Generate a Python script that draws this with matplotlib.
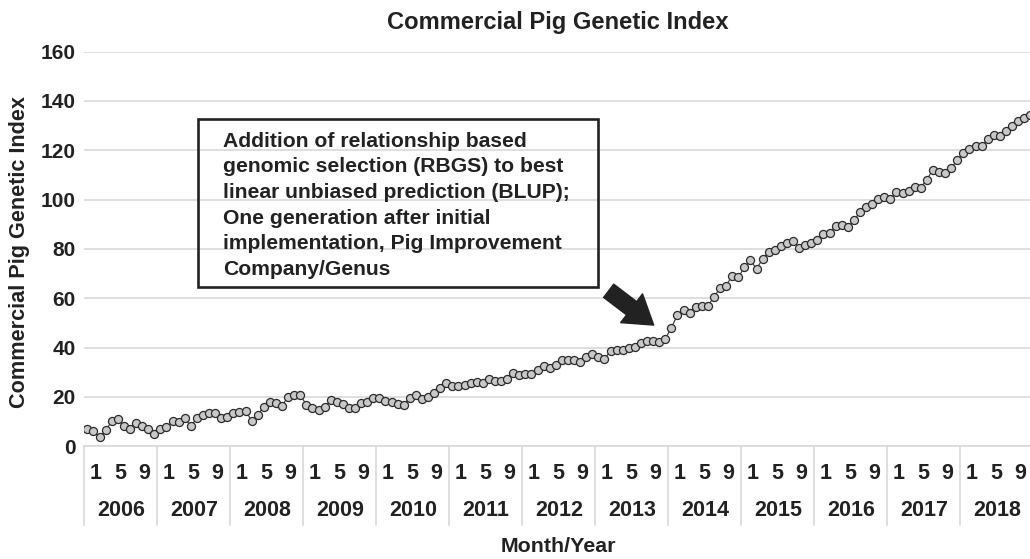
import matplotlib
matplotlib.use('Agg')
import matplotlib.pyplot as plt
import numpy as np

plt.rcParams['font.family'] = ['Liberation Sans', 'DejaVu Sans']
plt.rcParams['font.weight'] = 'bold'

# Monthly index values, Jan 2006 - Dec 2018
years = ['2006', '2007', '2008', '2009', '2010', '2011', '2012',
         '2013', '2014', '2015', '2016', '2017', '2018']
month_labels = ['1', '5', '9']
index_2006 = [6.8, 6.0, 3.5, 6.4, 10.0, 10.8, 8.1, 7.1, 9.5, 8.1, 6.8, 5.1]
index_2007 = [6.8, 7.7, 10.0, 9.7, 11.3, 8.1, 11.3, 12.7, 13.3, 13.3, 11.3, 12.0]
index_2008 = [13.3, 14.0, 14.3, 10.3, 12.7, 16.0, 18.0, 17.3, 16.4, 20.0, 20.7, 20.7]
index_2009 = [16.8, 15.5, 14.7, 15.7, 18.7, 17.7, 17.1, 15.3, 15.5, 17.5, 18.0, 19.5]
index_2010 = [19.7, 18.4, 17.7, 17.1, 16.8, 19.5, 20.8, 19.1, 20.1, 21.5, 23.5, 25.7]
index_2011 = [24.4, 24.4, 24.7, 25.7, 26.0, 25.7, 27.1, 26.4, 26.4, 27.3, 29.7, 28.7]
index_2012 = [29.1, 29.1, 30.8, 32.4, 31.7, 33.1, 35.1, 35.1, 34.8, 34.0, 36.0, 37.3]
index_2013 = [36.1, 35.5, 38.4, 39.1, 39.1, 40.0, 40.4, 42.0, 42.8, 42.7, 42.4, 43.5]
index_2014 = [48.1, 53.1, 55.1, 54.1, 56.5, 56.8, 56.8, 60.6, 64.0, 65.1, 69.1, 68.4]
index_2015 = [72.5, 75.5, 71.8, 76.0, 78.6, 79.5, 81.3, 82.5, 83.4, 80.5, 81.6, 82.2]
index_2016 = [83.8, 86.1, 86.5, 89.2, 89.6, 88.9, 91.6, 94.9, 96.9, 98.3, 100.4, 101.1]
index_2017 = [100.4, 103.1, 102.7, 103.4, 105.1, 104.9, 108.1, 112.2, 111.2, 110.9, 113.0, 115.9]
index_2018 = [119.1, 120.7, 121.6, 121.6, 124.5, 126.1, 125.7, 127.8, 129.7, 131.8, 133.2, 134.2]

values = (index_2006 + index_2007 + index_2008 + index_2009 + index_2010 +
          index_2011 + index_2012 + index_2013 + index_2014 + index_2015 +
          index_2016 + index_2017 + index_2018)
x = np.arange(len(values))

note = ('Addition of relationship based\n'
        'genomic selection (RBGS) to best\n'
        'linear unbiased prediction (BLUP);\n'
        'One generation after initial\n'
        'implementation, Pig Improvement\n'
        'Company/Genus')

fig = plt.figure(figsize=(10.30, 5.59), dpi=100)
ax = fig.add_axes([84.3 / 1030, 1 - 446.1 / 559, 949 / 1030, 394.4 / 559])

ax.plot(x, values, color='#333333', lw=0.8, marker='o', ms=5.8,
        mfc='#c8c8c8', mec='#2a2a2a', mew=0.9, zorder=3)

ax.set_xlim(-0.5, len(values) - 0.5)
ax.set_ylim(0, 160)
ax.set_yticks(range(0, 161, 20))
ax.tick_params(axis='y', length=0, pad=6, labelsize=15, labelcolor='#222222')
ax.grid(axis='y', color='#d9d9d9', lw=1.2)
ax.set_axisbelow(True)
for s in ['left', 'right', 'top']:
    ax.spines[s].set_visible(False)
ax.spines['bottom'].set_color('#d9d9d9')
ax.spines['bottom'].set_linewidth(1.2)

# two-level category axis: months and years
ax.set_xticks([])
trans = ax.get_xaxis_transform()
for k, yr in enumerate(years):
    start = 12 * k
    for lab, off in zip(month_labels, [1.4, 5.5, 9.3]):
        ax.text(start + off, -0.0695, lab, transform=trans, ha='center',
                va='center', fontsize=15.5, color='#222222')
    ax.text(start + 5.5, -0.164, yr, transform=trans, ha='center',
            va='center', fontsize=15.5, color='#222222')
for k in range(len(years) + 1):
    ax.plot([12 * k - 0.5] * 2, [0, -0.2], transform=trans, color='#d9d9d9',
            lw=1.2, clip_on=False)

fig.text(558 / 1030, 1 - 23 / 559, 'Commercial Pig Genetic Index',
         ha='center', va='center', fontsize=17.1, color='#222222')
fig.text(558 / 1030, 1 - 547 / 559, 'Month/Year', ha='center', va='center',
         fontsize=15.4, color='#222222')
fig.text(20 / 1030, 1 - 251.7 / 559, 'Commercial Pig Genetic Index',
         rotation=90, ha='center', va='center', fontsize=15.6, color='#222222')

# annotation box and arrow
ax.text(0.1465, 0.797, note, transform=ax.transAxes, ha='left', va='top',
        fontsize=15.25, color='#222222', linespacing=1.44, zorder=4)
box = plt.Rectangle((198.3, 559 - 287.3), 400, 168.3, transform=None,
                    fill=False, ec='#222222', lw=1.9, zorder=4)
fig.patches.append(box)
ax.annotate('', xy=(93.1, 49.1), xytext=(85.7, 63.0),
            arrowprops=dict(arrowstyle='simple,head_width=1.3,head_length=1.0,tail_width=0.6',
                            fc='#222222', ec='#222222', mutation_scale=20,
                            shrinkA=0, shrinkB=0), zorder=4)

fig.savefig('out.png', dpi=100)
